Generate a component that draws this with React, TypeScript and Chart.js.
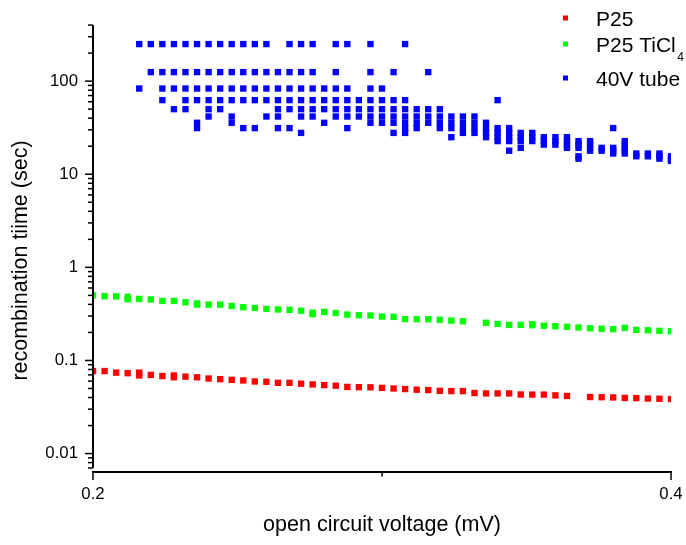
import React, { useEffect, useRef } from "react";
import { Chart, registerables } from "chart.js";

Chart.register(...registerables);

// ---------- data ----------
const p25Voltage = [
  0.2, 0.204, 0.208, 0.212, 0.216, 0.216, 0.22, 0.224, 0.228, 0.228, 0.232, 0.236, 0.24, 0.244, 0.248,
  0.252, 0.256, 0.26, 0.264, 0.268, 0.272, 0.276, 0.28, 0.284, 0.288, 0.292, 0.296, 0.3, 0.304, 0.308,
  0.312, 0.316, 0.32, 0.324, 0.328, 0.332, 0.336, 0.34, 0.344, 0.348, 0.352, 0.356, 0.36, 0.364, 0.372,
  0.376, 0.38, 0.384, 0.388, 0.392, 0.396, 0.4,
];
const p25Time = [
  0.077, 0.077, 0.074, 0.073, 0.074, 0.069, 0.07, 0.068, 0.069, 0.066, 0.067, 0.066, 0.064, 0.063, 0.062,
  0.061, 0.0595, 0.059, 0.0575, 0.0575, 0.0563, 0.0553, 0.0544, 0.0536, 0.052, 0.0517, 0.0515, 0.0508, 0.05, 0.0493,
  0.0485, 0.0481, 0.0472, 0.0469, 0.0469, 0.0447, 0.0443, 0.0443, 0.0443, 0.0431, 0.043, 0.043, 0.0422, 0.0416, 0.0405,
  0.0403, 0.0401, 0.0396, 0.0394, 0.039, 0.0388, 0.0385,
];

const ticl4Voltage = [
  0.2, 0.204, 0.208, 0.212, 0.212, 0.216, 0.22, 0.224, 0.228, 0.232, 0.236, 0.236, 0.24, 0.244, 0.248,
  0.252, 0.256, 0.26, 0.264, 0.268, 0.272, 0.276, 0.276, 0.28, 0.284, 0.288, 0.292, 0.296, 0.3, 0.304,
  0.308, 0.312, 0.316, 0.32, 0.324, 0.328, 0.336, 0.34, 0.344, 0.348, 0.352, 0.352, 0.356, 0.36, 0.364,
  0.368, 0.372, 0.376, 0.38, 0.384, 0.388, 0.392, 0.396, 0.4,
];
const ticl4Time = [
  0.5, 0.49, 0.488, 0.482, 0.455, 0.458, 0.452, 0.436, 0.436, 0.422, 0.41, 0.398, 0.398, 0.398, 0.385,
  0.373, 0.367, 0.358, 0.353, 0.35, 0.342, 0.326, 0.314, 0.332, 0.323, 0.311, 0.306, 0.304, 0.296, 0.294,
  0.278, 0.278, 0.277, 0.273, 0.268, 0.264, 0.254, 0.247, 0.241, 0.241, 0.245, 0.239, 0.236, 0.233, 0.23,
  0.226, 0.222, 0.219, 0.217, 0.224, 0.213, 0.211, 0.208, 0.206,
];

const tubeVoltage = [
  0.216, 0.22, 0.224, 0.228, 0.232, 0.236, 0.24, 0.244, 0.248, 0.252, 0.256, 0.26, 0.264, 0.268, 0.272,
  0.276, 0.28, 0.284, 0.288, 0.292, 0.296, 0.3, 0.304, 0.308, 0.312, 0.316, 0.32, 0.324, 0.328, 0.332,
  0.336, 0.34, 0.344, 0.348, 0.352, 0.356, 0.36, 0.364, 0.368, 0.372, 0.376, 0.38, 0.384, 0.388, 0.392,
  0.396, 0.4,
];
const tubeTimes = [
  [250, 83.3],
  [250, 125],
  [250, 125, 83.3, 62.5],
  [250, 125, 83.3, 50],
  [250, 125, 83.3, 62.5, 50],
  [250, 125, 83.3, 62.5, 35.7, 31.3],
  [250, 125, 83.3, 62.5, 50, 41.7],
  [250, 125, 83.3, 62.5, 50],
  [250, 125, 83.3, 62.5, 41.7, 35.7],
  [250, 125, 83.3, 62.5, 31.3],
  [250, 125, 83.3, 62.5, 31.3],
  [250, 125, 83.3, 62.5, 41.7],
  [125, 83.3, 62.5, 50, 41.7, 31.3],
  [250, 125, 83.3, 62.5, 50, 31.3],
  [250, 125, 83.3, 62.5, 50, 41.7, 27.8],
  [250, 125, 83.3, 62.5, 50, 41.7],
  [83.3, 62.5, 50, 35.7],
  [250, 125, 83.3, 62.5, 50, 41.7],
  [250, 83.3, 62.5, 50, 41.7, 31.3],
  [62.5, 50, 41.7],
  [250, 125, 83.3, 62.5, 50, 41.7, 35.7],
  [83.3, 62.5, 50, 41.7, 35.7],
  [125, 62.5, 50, 41.7, 35.7, 27.8],
  [250, 62.5, 50, 41.7, 35.7, 31.3, 27.8],
  [50, 41.7, 35.7, 31.3],
  [125, 50, 41.7, 35.7],
  [50, 41.7, 35.7, 31.3],
  [41.7, 35.7, 31.3, 25],
  [41.7, 35.7, 31.3, 27.8],
  [41.7, 35.7, 31.3, 27.8],
  [35.7, 31.3, 27.8, 25],
  [62.5, 31.3, 27.8, 25, 22.7],
  [31.3, 27.8, 25, 22.7, 17.9],
  [27.8, 25, 22.7, 19.2],
  [27.8, 25, 22.7],
  [25, 22.7, 20.8],
  [25, 22.7, 20.8],
  [25, 22.7, 20.8, 19.2],
  [22.7, 20.8, 19.2, 15.6, 14.7],
  [22.7, 20.8, 19.2, 17.9],
  [19.2, 17.9],
  [31.3, 19.2, 17.9, 16.7],
  [22.7, 20.8, 19.2, 17.9, 16.7],
  [16.7, 15.6],
  [16.7, 15.6],
  [16.7, 15.6, 14.7],
  [15.6, 14.7, 13.9],
];

const seriesLabels = ["P25", "P25 TiCl4", "40V tube"];
const seriesColors = ["#ff0000", "#00ff00", "#0000ff"];

const xMin = 0.2;
const xMax = 0.4;
const xMajorTicks = [0.2, 0.4];
const xMinorTicks = [0.3];
const yMin = 0.007;
const yMax = 400;
const yDecades = [0.001, 0.01, 0.1, 1, 10, 100];
const yMajorTicks = [0.01, 0.1, 1, 10, 100];
const yMinorFactors = [2, 3, 4, 5, 6, 7, 8, 9];
const xTitle = "open circuit voltage (mV)";
const yTitle = "recombination tiime (sec)";

const FONT = "'Liberation Sans', Arial, Helvetica, sans-serif";
const TEXT = "#000000";

// ---------- plugins ----------
const axesPlugin = {
  id: "originAxes",
  afterDatasetsDraw(chart: any) {
    const { ctx, chartArea } = chart;
    const xs = chart.scales.x;
    const ys = chart.scales.y;
    const axisY = chartArea.bottom + 4;
    ctx.save();
    ctx.strokeStyle = "#000";
    ctx.lineCap = "butt";
    ctx.lineWidth = 2;
    ctx.beginPath();
    ctx.moveTo(chartArea.left, chartArea.top);
    ctx.lineTo(chartArea.left, chartArea.bottom);
    ctx.stroke();
    ctx.beginPath();
    ctx.moveTo(chartArea.left - 1, axisY);
    ctx.lineTo(chartArea.right + 1, axisY);
    ctx.stroke();
    ctx.lineWidth = 1.5;
    ys.ticks.forEach((t: any) => {
      const p = ys.getPixelForValue(t.value);
      const len = t.major ? 8 : 5;
      ctx.beginPath();
      ctx.moveTo(chartArea.left - len, p);
      ctx.lineTo(chartArea.left, p);
      ctx.stroke();
    });
    xs.ticks.forEach((t: any) => {
      const p = xs.getPixelForValue(t.value);
      const len = t.major ? 8 : 4.5;
      ctx.beginPath();
      ctx.moveTo(p, axisY);
      ctx.lineTo(p, axisY + len);
      ctx.stroke();
    });
    ctx.restore();
  },
};

const yTitlePlugin = {
  id: "yTitle",
  afterDraw(chart: any) {
    const { ctx, chartArea } = chart;
    ctx.save();
    ctx.translate(27, (chartArea.top + chartArea.bottom) / 2 + 14);
    ctx.rotate(-Math.PI / 2);
    ctx.font = `21.5px ${FONT}`;
    ctx.fillStyle = TEXT;
    ctx.textAlign = "center";
    ctx.textBaseline = "alphabetic";
    ctx.fillText(yTitle, 0, 0);
    ctx.restore();
  },
};

const legendRows = [18, 44, 78];
const legendPlugin = {
  id: "customLegend",
  afterDraw(chart: any) {
    const { ctx } = chart;
    ctx.save();
    chart.data.datasets.forEach((ds: any, i: number) => {
      const y = legendRows[i];
      ctx.fillStyle = ds.backgroundColor;
      ctx.fillRect(563, y - 2.5, 5, 5);
      ctx.fillStyle = TEXT;
      ctx.textAlign = "left";
      ctx.textBaseline = "alphabetic";
      ctx.font = `21px ${FONT}`;
      const m = String(ds.label).match(/^(.*Cl)(\d+)$/);
      if (m) {
        ctx.fillText(m[1], 596, y + 8);
        const w = ctx.measureText(m[1]).width;
        ctx.font = `12px ${FONT}`;
        ctx.fillText(m[2], 596 + w + 1.5, y + 17);
      } else {
        ctx.fillText(ds.label, 596, y + 8);
      }
    });
    ctx.restore();
  },
};

function buildYTicks() {
  const out: { value: number; major: boolean }[] = [];
  yDecades.forEach((d) => {
    [1, ...yMinorFactors].forEach((f) => {
      const v = parseFloat((d * f).toPrecision(6));
      if (v >= yMin * 0.999999 && v <= yMax * 1.000001) {
        out.push({ value: v, major: f === 1 && yMajorTicks.includes(v) });
      }
    });
  });
  return out;
}

export default function App() {
  const canvasRef = useRef<HTMLCanvasElement | null>(null);

  useEffect(() => {
    const canvas = canvasRef.current;
    if (!canvas) return;

    const tubePoints: { x: number; y: number }[] = [];
    tubeVoltage.forEach((v, i) => tubeTimes[i].forEach((t) => tubePoints.push({ x: v, y: t })));

    const pointCommon = {
      pointStyle: "rect",
      pointRadius: 4.5,
      pointHoverRadius: 4.5,
      pointBorderWidth: 0,
      showLine: false,
      clip: 0,
    };

    const chart = new Chart(canvas, {
      type: "scatter",
      data: {
        datasets: [
          {
            label: seriesLabels[0],
            data: p25Voltage.map((x, i) => ({ x, y: p25Time[i] })),
            backgroundColor: seriesColors[0],
            borderColor: seriesColors[0],
            ...pointCommon,
          },
          {
            label: seriesLabels[1],
            data: ticl4Voltage.map((x, i) => ({ x, y: ticl4Time[i] })),
            backgroundColor: seriesColors[1],
            borderColor: seriesColors[1],
            ...pointCommon,
          },
          {
            label: seriesLabels[2],
            data: tubePoints,
            backgroundColor: seriesColors[2],
            borderColor: seriesColors[2],
            ...pointCommon,
          },
        ] as any,
      },
      options: {
        animation: false,
        responsive: false,
        devicePixelRatio: 1,
        layout: { padding: { top: 24, right: 15, left: 0, bottom: 0 } },
        plugins: {
          legend: { display: false },
          tooltip: { enabled: false },
        },
        events: [],
        scales: {
          x: {
            type: "linear",
            position: "bottom",
            min: xMin,
            max: xMax,
            bounds: "data",
            afterBuildTicks: (s: any) => {
              s.ticks = [...xMajorTicks, ...xMinorTicks]
                .sort((a, b) => a - b)
                .map((v) => ({ value: v, major: xMajorTicks.includes(v) }));
            },
            afterFit: (s: any) => {
              s.height = 77;
            },
            grid: { display: false, drawTicks: true, tickLength: 16.5 },
            border: { display: false },
            ticks: {
              autoSkip: false,
              maxRotation: 0,
              padding: 0,
              color: TEXT,
              font: { family: FONT, size: 16.8 },
              callback: (v: any) => (xMajorTicks.includes(v) ? String(v) : ""),
            },
            title: {
              display: true,
              text: xTitle,
              color: TEXT,
              font: { family: FONT, size: 21.5 },
              padding: { top: 0, bottom: 7.5 },
            },
          },
          y: {
            type: "logarithmic",
            position: "left",
            min: yMin,
            max: yMax,
            bounds: "data",
            afterBuildTicks: (s: any) => {
              s.ticks = buildYTicks();
            },
            afterFit: (s: any) => {
              s.width = 93;
            },
            grid: { display: false, drawTicks: false },
            border: { display: false },
            ticks: {
              autoSkip: false,
              padding: 15,
              color: TEXT,
              font: { family: FONT, size: 16.8 },
              callback: (v: any) => (yMajorTicks.includes(v) ? String(v) : ""),
            },
            title: { display: false },
          },
        },
      } as any,
      plugins: [axesPlugin, yTitlePlugin, legendPlugin],
    });

    return () => chart.destroy();
  }, []);

  return (
    <div style={{ position: "absolute", left: 0, top: 0, width: 686, height: 545, background: "#fff" }}>
      <canvas ref={canvasRef} width={686} height={545} style={{ display: "block", width: 686, height: 545 }} />
    </div>
  );
}
